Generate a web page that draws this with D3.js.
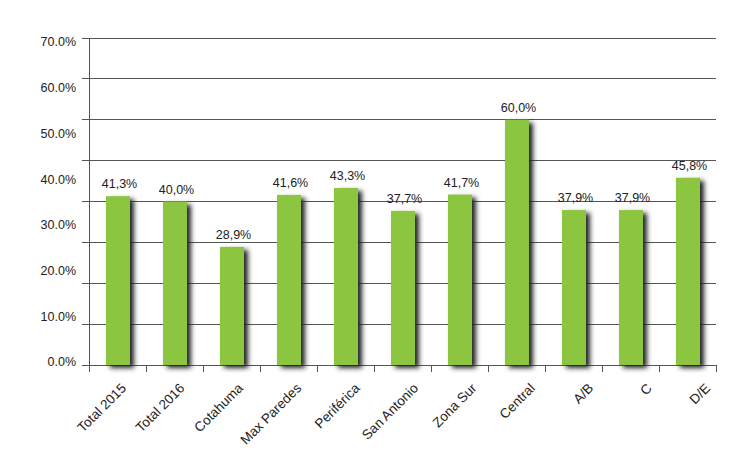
<!DOCTYPE html>
<html><head><meta charset="utf-8">
<script src="https://cdn.jsdelivr.net/npm/d3@7"></script>
<style>body{margin:0;background:#fff}svg{display:block}text{font-family:"Liberation Sans",Arial,sans-serif;fill:#222}</style>
</head><body><svg id="c" width="751" height="458"></svg>
<script>
const categories = ["Total 2015","Total 2016","Cotahuma","Max Paredes","Periférica","San Antonio","Zona Sur","Central","A/B","C","D/E"];
const values = [41.3, 40.0, 28.9, 41.6, 43.3, 37.7, 41.7, 60.0, 37.9, 37.9, 45.8];
const valueLabels = ["41,3%","40,0%","28,9%","41,6%","43,3%","37,7%","41,7%","60,0%","37,9%","37,9%","45,8%"];
const gridValues = [0,10,20,30,40,50,60,70,80];
const tickLabels = ["0.0%","10.0%","20.0%","30.0%","40.0%","50.0%","60.0%","70.0%"];

const svg = d3.select("#c");
const x0 = 89, x1 = 716, yBase = 365;
const x = d3.scaleBand().domain(categories).range([x0, x1]).paddingInner(0).paddingOuter(0);
const y = d3.scaleLinear().domain([0, 80]).range([yBase, 38]);
// label layers (as in the original, slightly differently scaled)
const yLab = d3.scalePoint().domain(tickLabels).range([362, 42]);
const xLab = d3.scalePoint().domain(categories).range([127, 711]);

const defs = svg.append("defs");
const f = defs.append("filter").attr("id","sh").attr("x","-50%").attr("y","-10%").attr("width","200%").attr("height","130%");
f.append("feDropShadow").attr("dx",4).attr("dy",3).attr("stdDeviation",2.8).attr("flood-color","#222").attr("flood-opacity",1);

// gridlines
svg.append("g").selectAll("line").data(gridValues).join("line")
  .attr("x1", x0 - 7).attr("x2", x1).attr("y1", d => y(d)).attr("y2", d => y(d))
  .attr("stroke", "#555").attr("stroke-width", 1).attr("shape-rendering","crispEdges");

// y axis line
svg.append("line").attr("x1", x0).attr("x2", x0).attr("y1", y(80)).attr("y2", yBase + 7)
  .attr("stroke", "#555").attr("shape-rendering","crispEdges");

// x ticks
const tickX = categories.map(c => x(c)).concat([x1]).slice(1);
svg.append("g").selectAll("line").data(tickX).join("line")
  .attr("x1", d => d).attr("x2", d => d).attr("y1", yBase).attr("y2", yBase + 7)
  .attr("stroke", "#555").attr("shape-rendering","crispEdges");

// y tick labels
svg.append("g").selectAll("text").data(tickLabels).join("text")
  .attr("x", 76).attr("y", d => yLab(d)).attr("dy","0.35em")
  .attr("text-anchor","end").attr("font-size", 12.5).text(d => d);

// bars
const bw = 24;
svg.append("g").selectAll("rect").data(values).join("rect")
  .attr("x", (d,i) => x(categories[i]) + x.bandwidth()/2 - bw/2 + 0.5)
  .attr("width", bw)
  .attr("y", d => y(d)).attr("height", d => yBase - y(d))
  .attr("fill", "#8cc63f").attr("filter","url(#sh)");

// value labels
svg.append("g").selectAll("text").data(values).join("text")
  .attr("x", (d,i) => x(categories[i]) + x.bandwidth()/2 + 2)
  .attr("y", d => y(d) - 8)
  .attr("text-anchor","middle").attr("font-size", 12.5).text((d,i) => valueLabels[i]);

// category labels
svg.append("g").selectAll("text").data(categories).join("text")
  .attr("transform", d => `translate(${xLab(d)},${389}) rotate(-45)`)
  .attr("text-anchor","end").attr("font-size", 13.5).text(d => d);
</script></body></html>
